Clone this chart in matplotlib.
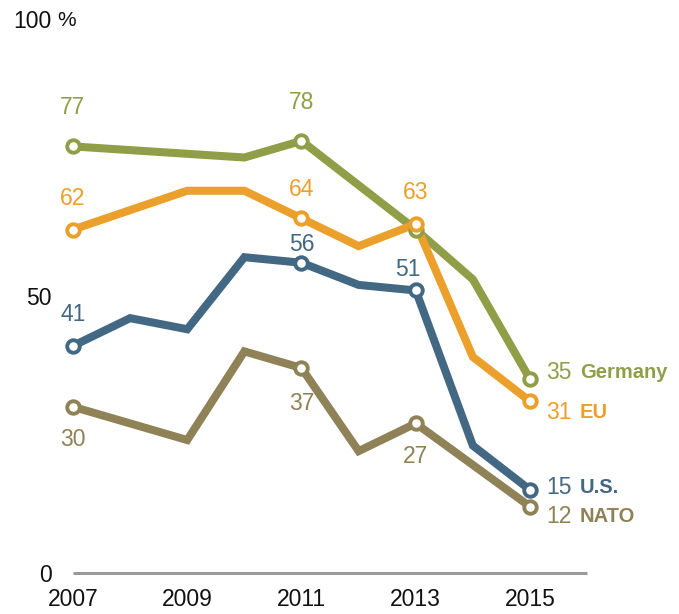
import matplotlib
matplotlib.use("Agg")
import matplotlib.pyplot as plt

# ---- data ----
germany_years = [2007, 2010, 2011, 2013, 2014, 2015]
germany_vals = [77, 75, 78, 62, 53, 35]

eu_years = [2007, 2009, 2010, 2011, 2012, 2013, 2014, 2015]
eu_vals = [62, 69, 69, 64, 59, 63, 39, 31]

us_years = [2007, 2008, 2009, 2010, 2011, 2012, 2013, 2014, 2015]
us_vals = [41, 46, 44, 57, 56, 52, 51, 23, 15]

nato_years = [2007, 2009, 2010, 2011, 2012, 2013, 2015]
nato_vals = [30, 24, 40, 37, 22, 27, 12]

marked_years = [2007, 2011, 2013, 2015]
x_ticks = [2007, 2009, 2011, 2013, 2015]
y_ticks = [0, 50, 100]
y_tick_labels = ["0", "50", "100"]

C_GER = "#909E48"
C_EU = "#ECA02C"
C_US = "#436883"
C_NATO = "#8E8256"

W, H = 679, 614
fig = plt.figure(figsize=(W / 100, H / 100), dpi=100)
left_px, right_px, top_px, bottom_px = 60, 620, 19, 573
ax = fig.add_axes([left_px / W, (H - bottom_px) / H, (right_px - left_px) / W, (bottom_px - top_px) / H])
px_per_year = 57.125
ax.set_xlim(2007 - (73 - left_px) / px_per_year, 2007 + (right_px - 73) / px_per_year)
ax.set_ylim(0, 100)
for s in ax.spines.values():
    s.set_visible(False)

FONT = ["Liberation Sans", "DejaVu Sans"]

ax.hlines(0, 2007, 2016, color="#9a9a9a", lw=2.2, clip_on=False, zorder=1)

series = [
    ("Germany", germany_years, germany_vals, C_GER),
    ("EU", eu_years, eu_vals, C_EU),
    ("U.S.", us_years, us_vals, C_US),
    ("NATO", nato_years, nato_vals, C_NATO),
]

for name, yrs, vals, col in series:
    ax.plot(yrs, vals, color=col, lw=5.8, solid_joinstyle="miter", solid_capstyle="butt",
            clip_on=False, zorder=2)
    mx = [y for y in yrs if y in marked_years]
    mv = [v for y, v in zip(yrs, vals) if y in marked_years]
    ax.plot(mx, mv, ls="none", marker="o", ms=9, mfc="white", mec=col, mew=2.8,
            clip_on=False, zorder=3)

label_offsets = {
    "Germany": {2007: (0, 39), 2011: (0, 38)},
    "EU": {2007: (0, 31), 2011: (0, 29), 2013: (0, 31)},
    "U.S.": {2007: (0, 31), 2011: (0, 18), 2013: (-8, 21)},
    "NATO": {2007: (0, -33), 2011: (0, -35), 2013: (0, -33)},
}
end_offsets = {"Germany": 7, "EU": -11, "U.S.": 2, "NATO": -10}

for name, yrs, vals, col in series:
    for yr, (dx, dy) in label_offsets[name].items():
        v = vals[yrs.index(yr)]
        ax.annotate(str(v), (yr, v), xytext=(dx, dy), textcoords="offset pixels",
                    ha="center", va="center", color=col, fontsize=16.5, family=FONT)
    v = vals[yrs.index(2015)]
    ax.annotate(str(v), (2015, v), xytext=(16, end_offsets[name]), textcoords="offset pixels",
                ha="left", va="center", color=col, fontsize=16.5, family=FONT)
    ax.annotate(name, (2015, v), xytext=(50, end_offsets[name]), textcoords="offset pixels",
                ha="left", va="center", color=col, fontsize=14.5, fontweight="bold", family=FONT)

ax.set_xticks(x_ticks)
ax.set_xticklabels([str(x) for x in x_ticks], fontsize=16.5, family=FONT, color="#111111")
ax.set_yticks(y_ticks)
ax.set_yticklabels(y_tick_labels, fontsize=16.5, family=FONT, color="#111111")
ax.tick_params(axis="x", length=0, pad=11)
ax.tick_params(axis="y", length=0, pad=6)
ax.annotate("%", (ax.get_xlim()[0], 100), xytext=(-3, -2), textcoords="offset pixels",
            ha="left", va="center", fontsize=15, family=FONT, color="#111111",
            annotation_clip=False)

fig.savefig("out.png", dpi=100)
